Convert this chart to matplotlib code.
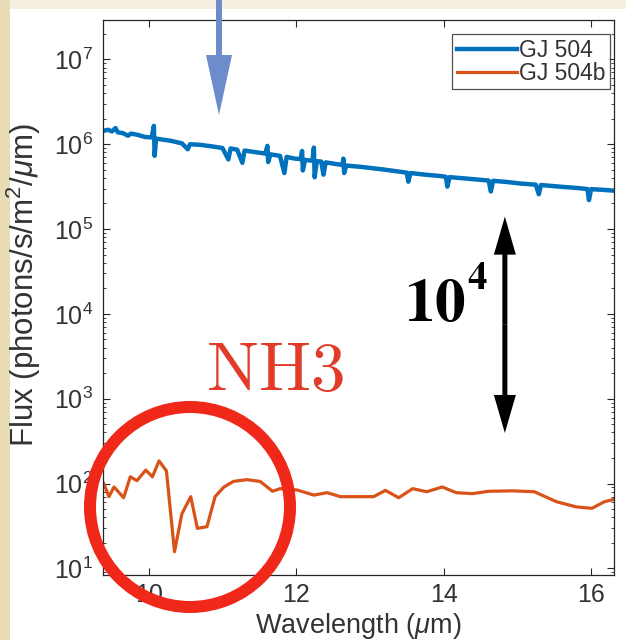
import numpy as np
import matplotlib
matplotlib.use("Agg")
import matplotlib.pyplot as plt
from matplotlib.patches import FancyArrow, Circle, Rectangle
from matplotlib.transforms import IdentityTransform
from matplotlib.ticker import FixedLocator, LogLocator, FuncFormatter, NullFormatter

plt.rcParams['font.family'] = ['Liberation Sans', 'DejaVu Sans']
plt.rcParams['mathtext.fontset'] = 'custom'
plt.rcParams['mathtext.rm'] = 'Liberation Sans'
plt.rcParams['mathtext.it'] = 'Liberation Sans:italic'
plt.rcParams['mathtext.bf'] = 'Liberation Sans:bold'

# ---------------- data ----------------
star_wl = [9.38, 9.45, 9.50, 9.55, 9.58, 9.65, 9.72, 9.76, 9.85, 9.95, 10.04, 10.07, 10.08, 10.10,
           10.15, 10.30, 10.45, 10.53, 10.56, 10.70, 10.85, 11.00, 11.08, 11.11, 11.20, 11.27, 11.30,
           11.45, 11.58, 11.61, 11.62, 11.65, 11.78, 11.84, 11.87, 11.98, 12.06, 12.08, 12.09, 12.12,
           12.22, 12.24, 12.25, 12.28, 12.34, 12.37, 12.40, 12.55, 12.63, 12.64, 12.65, 12.68, 12.87,
           13.05, 13.20, 13.41, 13.50, 13.52, 13.55, 13.75, 13.96, 14.03, 14.05, 14.08, 14.30, 14.50,
           14.61, 14.64, 14.67, 14.85, 15.04, 15.25, 15.29, 15.32, 15.59, 15.80, 15.95, 15.97, 16.00,
           16.15, 16.34]
star_flux = [1.435e6, 1.479e6, 1.413e6, 1.549e6, 1.380e6, 1.349e6, 1.259e6, 1.334e6, 1.288e6, 1.216e6,
             1.202e6, 1.644e6, 7.29e5, 1.161e6, 1.146e6, 1.096e6, 1.023e6, 8.71e5, 1.0e6, 9.82e5,
             9.44e5, 9.02e5, 6.61e5, 8.91e5, 8.61e5, 6.03e5, 8.41e5, 8.04e5, 7.76e5, 9.55e5, 6.17e5,
             7.59e5, 7.29e5, 4.57e5, 7.08e5, 6.76e5, 6.68e5, 8.32e5, 4.90e5, 6.53e5, 6.38e5, 9.12e5,
             4.07e5, 6.31e5, 6.24e5, 4.37e5, 6.10e5, 5.82e5, 5.69e5, 6.76e5, 4.57e5, 5.60e5, 5.41e5,
             5.19e5, 5.01e5, 4.73e5, 4.62e5, 3.61e5, 4.57e5, 4.37e5, 4.21e5, 4.12e5, 3.16e5, 4.09e5,
             3.94e5, 3.80e5, 3.73e5, 2.77e5, 3.70e5, 3.59e5, 3.44e5, 3.33e5, 2.57e5, 3.30e5, 3.15e5,
             3.05e5, 2.96e5, 2.19e5, 2.95e5, 2.90e5, 2.82e5]

planet_wl = [9.39, 9.46, 9.53, 9.66, 9.75, 9.84, 9.96, 10.05, 10.14, 10.24, 10.35, 10.45, 10.57,
             10.66, 10.79, 10.90, 11.02, 11.15, 11.33, 11.51, 11.68, 11.78, 12.01, 12.24, 12.42,
             12.60, 13.05, 13.21, 13.39, 13.58, 13.77, 13.98, 14.17, 14.39, 14.61, 14.93, 15.23,
             15.53, 15.80, 16.01, 16.18, 16.34]
planet_flux = [100, 70, 91, 68, 120, 108, 144, 120, 185, 141, 15.7, 44, 70, 29.6, 31, 70, 91, 106,
               111, 106, 81, 87, 84, 73, 78, 70, 70, 83, 68, 87, 80, 91, 78, 76, 81, 82, 80, 61, 53,
               51, 61, 66]

labels = ["GJ 504", "GJ 504b"]
x_ticks = [10, 12, 14, 16]
y_ticks = [1e1, 1e2, 1e3, 1e4, 1e5, 1e6, 1e7]

# ---------------- figure ----------------
W, H = 626, 640
fig = plt.figure(figsize=(W / 100, H / 100), dpi=100)
fig.patch.set_facecolor('white')
fig.add_artist(Rectangle((0, 0), 10, H, transform=IdentityTransform(),
                         facecolor='#E7DCB6', edgecolor='none', zorder=0))
fig.add_artist(Rectangle((10, H - 9), W - 10, 9, transform=IdentityTransform(),
                         facecolor='#F4EFDE', edgecolor='none', zorder=0))

ax = fig.add_axes([103 / W, 65 / H, 511 / W, 555.5 / H])
ax.plot(star_wl, star_flux, color='#0072BD', lw=3.2, label=labels[0])
ax.plot(planet_wl, planet_flux, color='#D95319', lw=2.3, label=labels[1])
ax.set_yscale('log')
ax.set_xlim(9.38, 16.31)
ax.set_ylim(8.35, 2.95e7)

ax.xaxis.set_major_locator(FixedLocator(x_ticks))
ax.yaxis.set_major_locator(FixedLocator(y_ticks))
ax.yaxis.set_minor_locator(LogLocator(base=10, subs=range(2, 10), numticks=100))
ax.yaxis.set_minor_formatter(NullFormatter())
ax.yaxis.set_major_formatter(FuncFormatter(
    lambda v, p: r'$\mathregular{10^{%d}}$' % int(round(np.log10(v)))))

ax.tick_params(which='both', direction='in', top=True, right=True, colors='#262626',
               labelcolor='#333333', labelsize=18)
ax.tick_params(which='major', length=5, width=0.8)
ax.tick_params(which='minor', length=2.5, width=0.6)
ax.tick_params(axis='x', pad=5.5)
ax.tick_params(axis='y', pad=7)
for s in ax.spines.values():
    s.set_color('#262626')
    s.set_linewidth(0.9)

ax.set_xlabel(r'Wavelength ($\mu$m)', fontsize=19.5, color='#333333')
ax.set_ylabel(r'Flux (photons/s/m$^2$/$\mu$m)', fontsize=22.5, color='#333333')
ax.xaxis.set_label_coords(0.5, -0.064)
ax.yaxis.set_label_coords(-0.118, 0.522)

leg = ax.legend(loc='upper right', bbox_to_anchor=(610 / W, 1 - 34 / H),
                bbox_transform=fig.transFigure, fontsize=16.5, frameon=True,
                fancybox=False, borderaxespad=0, borderpad=0.2, handlelength=2.6,
                handletextpad=0.1, labelspacing=0.0)
leg.get_frame().set_edgecolor('#262626')
leg.get_frame().set_linewidth(0.9)
for t in leg.get_texts():
    t.set_color('#333333')
leg.get_lines()[0].set_linewidth(3.2)

# ---------------- annotations ----------------
# blue arrow from top of figure
fig.add_artist(FancyArrow(219, H, 0, -115, width=6, head_width=26, head_length=60,
                          length_includes_head=True, transform=IdentityTransform(),
                          color='#6C8CCB', zorder=10, linewidth=0))

# black double arrow
arr_x = 14.83
arr_top, arr_bot = 10 ** 5.146, 10 ** 2.596
p_top = ax.transData.transform((arr_x, arr_top))
p_bot = ax.transData.transform((arr_x, arr_bot))
mid = (p_top[1] + p_bot[1]) / 2
for tip in (p_top[1], p_bot[1]):
    fig.add_artist(FancyArrow(p_top[0], mid, 0, tip - mid, width=5, head_width=22,
                              head_length=38, length_includes_head=True,
                              transform=IdentityTransform(), color='black',
                              zorder=10, linewidth=0))

fig.text(404, H - 321, r'$\mathbf{10}$', math_fontfamily='stix', fontsize=44,
         ha='left', va='baseline', color='black', transform=IdentityTransform())
fig.text(467, H - 289, r'$\mathbf{4}$', math_fontfamily='stix', fontsize=28,
         ha='left', va='baseline', color='black', transform=IdentityTransform())
fig.text(206, H - 390, r'$\mathrm{NH3}$', math_fontfamily='cm', fontsize=50,
         ha='left', va='baseline', color='#E23B2A', transform=IdentityTransform())

fig.add_artist(Circle((190, H - 507), 100, transform=IdentityTransform(), fill=False,
                      edgecolor='#F0281A', linewidth=12 * 0.72, zorder=11))

fig.savefig('out.png', dpi=100)
